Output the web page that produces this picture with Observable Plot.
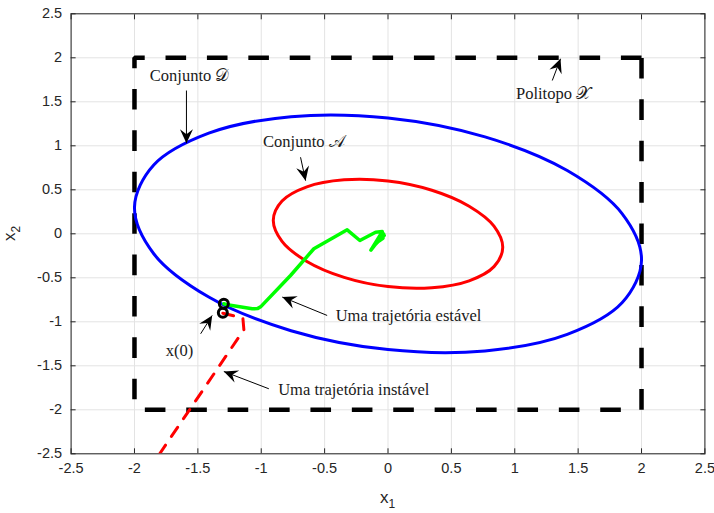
<!DOCTYPE html>
<html><head><meta charset="utf-8">
<script src="https://cdn.jsdelivr.net/npm/d3@7"></script>
<script src="https://cdn.jsdelivr.net/npm/@observablehq/plot@0.6"></script>
<style>body{margin:0;background:#fff} svg{display:block}</style>
</head><body><div id="chart"></div>
<script>
const xTicks = [-2.5,-2,-1.5,-1,-0.5,0,0.5,1,1.5,2,2.5];
const yTicks = [-2.5,-2,-1.5,-1,-0.5,0,0.5,1,1.5,2,2.5];

// Politopo X (dashed square)
const polyX = [2,-2,-2,2,2];
const polyY = [2,2,-2,-2,2];

// Conjunto D (blue ellipse)
const setDX = [2, 1.848, 1.414, 0.765, 0, -0.765, -1.414, -1.848, -2, -1.848, -1.414, -0.765, 0, 0.765, 1.414, 1.848];
const setDY = [-0.30, 0.227, 0.719, 1.101, 1.316, 1.331, 1.143, 0.781, 0.30, -0.227, -0.719, -1.101, -1.316, -1.331, -1.143, -0.781];

// Conjunto A (red ellipse)
const setAX = [0.905, 0.836, 0.640, 0.346, 0, -0.346, -0.640, -0.836, -0.905, -0.836, -0.640, -0.346, 0, 0.346, 0.640, 0.836];
const setAY = [-0.155, 0.087, 0.314, 0.495, 0.600, 0.613, 0.534, 0.373, 0.155, -0.087, -0.314, -0.495, -0.600, -0.613, -0.534, -0.373];

// stable trajectory (green)
const stableX = [-1.295, -1.268, -1.071, -1.030, -1.005, -0.769, -0.585, -0.322, -0.222, -0.098, -0.045, -0.135, -0.035, -0.12, -0.03, -0.1, -0.04, -0.07];
const stableY = [-0.795, -0.807, -0.852, -0.85, -0.83, -0.474, -0.170, 0.045, -0.076, 0.018, 0.025, -0.185, 0.0, -0.15, -0.02, -0.11, -0.05, -0.08];

// unstable trajectory (red dashed)
const unstableX = [-1.303, -1.145, -1.137, -1.825];
const unstableY = [-0.902, -0.955, -1.09, -2.55];

// initial conditions x(0)
const x0X = [-1.295, -1.303];
const x0Y = [-0.795, -0.898];

// annotations
const labels = ["Conjunto 𝒟", "Politopo 𝒳", "Conjunto 𝒜", "Uma trajetória estável", "x(0)", "Uma trajetória instável"];
const labelX = [-1.565, 1.306, -0.664, 0.162, -1.645, -0.270];
const labelY = [1.80, 1.59, 1.041, -0.928, -1.326, -1.773];
const arrowX1 = [-1.590, 1.296, -0.690, -0.480, -1.478, -0.940];
const arrowY1 = [1.628, 1.742, 0.870, -0.928, -1.136, -1.761];
const arrowX2 = [-1.590, 1.361, -0.650, -0.834, -1.387, -1.295];
const arrowY2 = [1.03, 1.989, 0.604, -0.719, -0.928, -1.565];

const pts = (X, Y) => X.map((x, i) => ({x, y: Y[i]}));
const poly = pts(polyX, polyY);
const setD = pts(setDX, setDY);
const setA = pts(setAX, setAY);
const stable = pts(stableX, stableY);
const unstable = pts(unstableX, unstableY);
const x0 = pts(x0X, x0Y);
const notes = labels.map((t, i) => ({t, x: labelX[i], y: labelY[i]}));
const arrows = arrowX1.map((x1, i) => ({x1, y1: arrowY1[i], x2: arrowX2[i], y2: arrowY2[i]}));

function arrowHead(color, context) {
  const m = d3.create("svg:marker")
    .attr("viewBox", "-15 -8 16 16")
    .attr("markerWidth", 16).attr("markerHeight", 16)
    .attr("markerUnits", "userSpaceOnUse")
    .attr("orient", "auto")
    .attr("refX", 0).attr("refY", 0)
    .attr("fill", "black").attr("stroke", "none");
  m.append("path").attr("d", "M0,0L-14,-6.5L-9,0L-14,6.5Z");
  return m.node();
}

const axisFont = "Liberation Sans, Arial, sans-serif";
const serif = "Liberation Serif, DejaVu Serif, serif";
const fmt = d => String(d);

const plot = Plot.plot({
  width: 714, height: 513,
  marginLeft: 70.6, marginRight: 9.6, marginTop: 13.3, marginBottom: 59.7,
  x: {domain: [-2.5, 2.5]},
  y: {domain: [-2.5, 2.5]},
  style: {background: "white", fontFamily: axisFont},
  marks: [
    Plot.gridX(xTicks, {stroke: "#e3e3e3", strokeOpacity: 1, strokeWidth: 1}),
    Plot.gridY(yTicks, {stroke: "#e3e3e3", strokeOpacity: 1, strokeWidth: 1}),
    Plot.axisX(xTicks, {anchor: "bottom", tickSize: -5, tickPadding: 14, tickFormat: fmt, fontSize: 14.5, color: "#262626", label: null}),
    Plot.axisX(xTicks, {anchor: "top", tickSize: -5, tickFormat: () => "", color: "#262626", label: null}),
    Plot.axisY(yTicks, {anchor: "left", tickSize: -5, tickPadding: 14, tickFormat: fmt, fontSize: 14.5, color: "#262626", label: null}),
    Plot.axisY(yTicks, {anchor: "right", tickSize: -5, tickFormat: () => "", color: "#262626", label: null}),
    Plot.frame({stroke: "#262626", strokeWidth: 1}),
    Plot.line(poly, {x: "x", y: "y", stroke: "black", strokeWidth: 4.5, strokeDasharray: "20.6,20.8", strokeLinejoin: "miter", strokeLinecap: "butt"}),
    Plot.line(setD, {x: "x", y: "y", curve: "catmull-rom-closed", stroke: "#0000ff", strokeWidth: 3}),
    Plot.line(setA, {x: "x", y: "y", curve: "catmull-rom-closed", stroke: "#ff0000", strokeWidth: 3}),
    Plot.line(unstable, {x: "x", y: "y", stroke: "#ff0000", strokeWidth: 3, strokeDasharray: "11,10.5", clip: true}),
    Plot.line(stable, {x: "x", y: "y", stroke: "#00ff00", strokeWidth: 3.5, strokeLinejoin: "round"}),
    Plot.dot(x0, {x: "x", y: "y", r: 4.5, stroke: "black", strokeWidth: 3, fill: "none"}),
    Plot.text(notes, {x: "x", y: "y", text: "t", fontFamily: serif, fontSize: 16.5, fill: "#1a1a1a", ariaLabel: "annotation"}),
    Plot.link(arrows, {x1: "x1", y1: "y1", x2: "x2", y2: "y2", stroke: "black", strokeWidth: 1, markerEnd: arrowHead})
  ]
});
document.getElementById("chart").append(plot);
const svg = d3.select(plot);

// italic x in x(0)
svg.selectAll('g[aria-label="annotation"] text').each(function() {
  if (this.textContent.trim() === "x(0)") {
    const t = d3.select(this);
    t.selectAll("*").remove();
    t.text(null);
    t.append("tspan").style("font-style", "italic").attr("font-style", "italic").text("x");
    t.append("tspan").style("font-style", "normal").text("(0)");
  }
});
// white boxes behind annotations
svg.selectAll('g[aria-label="annotation"] text').each(function() {
  const b = this.getBBox();
  d3.select(this.parentNode).insert("rect", () => this)
    .attr("x", b.x - 3).attr("y", b.y - 1).attr("width", b.width + 6).attr("height", b.height + 2)
    .attr("fill", "white").attr("transform", this.getAttribute("transform"));
});

// axis labels with subscripts
const xr = plot.scale("x").range, yr = plot.scale("y").range;
const xl = svg.append("text").attr("x", (xr[0] + xr[1]) / 2).attr("y", yr[0] + 50)
  .attr("text-anchor", "middle").attr("font-family", axisFont).attr("font-size", 17).attr("fill", "#262626");
xl.append("tspan").text("x");
xl.append("tspan").attr("font-size", 12).attr("dy", 5).text("1");
const ycx = 15, ycy = (yr[0] + yr[1]) / 2;
const yl = svg.append("text").attr("transform", `translate(${ycx},${ycy}) rotate(-90)`)
  .attr("text-anchor", "middle").attr("font-family", axisFont).attr("font-size", 17).attr("fill", "#262626");
yl.append("tspan").text("x");
yl.append("tspan").attr("font-size", 12).attr("dy", 5).text("2");
</script>
</body></html>
